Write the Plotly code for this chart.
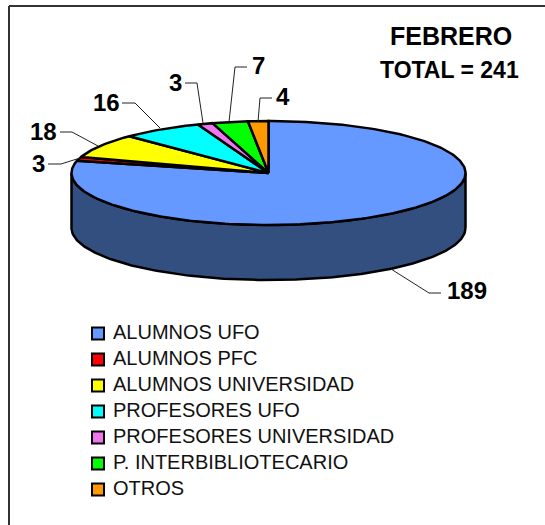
import numpy as np
import plotly.graph_objects as go

categories = ["ALUMNOS UFO", "ALUMNOS PFC", "ALUMNOS UNIVERSIDAD", "PROFESORES UFO",
              "PROFESORES UNIVERSIDAD", "P. INTERBIBLIOTECARIO", "OTROS"]
values = [189, 3, 18, 16, 3, 7, 4]
colors = ["#6699FF", "#FF0000", "#FFFF00", "#00FFFF", "#EE77EE", "#00FF00", "#FF9900"]
side_color = "#334F80"
title_lines = ["FEBRERO", "TOTAL = 241"]

CX, CY, RX, RY, DEPTH = 268.5, 173, 197, 52, 55
FONT = "Liberation Sans, Arial, sans-serif"

def ell(deg):
    t = np.radians(deg)
    return CX + RX * np.sin(t), CY - RY * np.cos(t)

fig = go.Figure()

# side wall of the disc (front half only)
t = np.linspace(90, 270, 181)
xf, yf = ell(t)
fig.add_trace(go.Scatter(
    x=np.r_[xf, xf[::-1], xf[0]], y=np.r_[yf + DEPTH, yf[::-1], yf[0] + DEPTH],
    mode="lines", fill="toself", fillcolor=side_color,
    line=dict(color="black", width=2.5), hoverinfo="skip", showlegend=False))

# top face, one wedge per value
total = sum(values)
cum = np.r_[0, np.cumsum(values)] / total * 360
for i, name in enumerate(categories):
    a = np.linspace(cum[i], cum[i + 1], max(3, int(cum[i + 1] - cum[i]) + 2))
    x, y = ell(a)
    fig.add_trace(go.Scatter(
        x=np.r_[CX, x, CX], y=np.r_[CY, y, CY], mode="lines", fill="toself",
        fillcolor=colors[i], line=dict(color="black", width=2.5),
        name=name, showlegend=False, hoverinfo="name"))

# label centre and three-point leader for each slice
label_pos = [(467, 290), (38, 163), (43, 131), (106, 102), (175.5, 82), (258, 65), (283, 96)]
leaders = [
    [(391, 269), (429, 293), (441, 293)],
    [(80, 158), (61, 164), (48, 164)],
    [(98, 146), (72, 132), (60, 132)],
    [(160, 128), (135, 103), (122, 103)],
    [(203, 123), (197, 83), (185, 83)],
    [(229, 122), (235, 67), (247, 67)],
    [(258, 122), (260, 98), (272, 98)],
]
for v, (lx, ly), pts in zip(values, label_pos, leaders):
    fig.add_trace(go.Scatter(x=[p[0] for p in pts], y=[p[1] for p in pts], mode="lines",
                             line=dict(color="#222222", width=1), hoverinfo="skip", showlegend=False))
    fig.add_annotation(x=lx, y=ly, text=f"<b>{v}</b>", showarrow=False,
                       font=dict(family=FONT, size=24, color="black"))

fig.add_annotation(x=451, y=36, text=f"<b>{title_lines[0]}</b>", showarrow=False,
                   font=dict(family=FONT, size=25, color="black"))
fig.add_annotation(x=449, y=70, text=f"<b>{title_lines[1]}</b>", showarrow=False,
                   font=dict(family=FONT, size=23, color="black"))

# legend
for i, name in enumerate(categories):
    y = 333.5 + i * 26
    fig.add_trace(go.Scatter(x=[98], y=[y], mode="markers", hoverinfo="skip", showlegend=False,
                             marker=dict(symbol="square", size=12, color=colors[i],
                                         line=dict(color="black", width=2))))
    fig.add_annotation(x=111, y=y - 1.5, text=name, showarrow=False, xanchor="left",
                       font=dict(family=FONT, size=20, color="#111111"))

# frame: only the top and left edges are inside the picture
fig.add_shape(type="line", x0=9, y0=6, x1=545, y1=6, line=dict(color="#333333", width=2))
fig.add_shape(type="line", x0=9, y0=6, x1=9, y1=525, line=dict(color="#333333", width=2))

fig.update_layout(
    width=545, height=525, margin=dict(l=0, r=0, t=0, b=0, pad=0),
    paper_bgcolor="white", plot_bgcolor="white", showlegend=False,
    xaxis=dict(range=[0, 545], visible=False, fixedrange=True),
    yaxis=dict(range=[525, 0], visible=False, fixedrange=True),
)
fig.write_html("out.html", config=dict(displayModeBar=False),
               post_script="document.body.style.margin='0';document.body.style.overflow='hidden';")
